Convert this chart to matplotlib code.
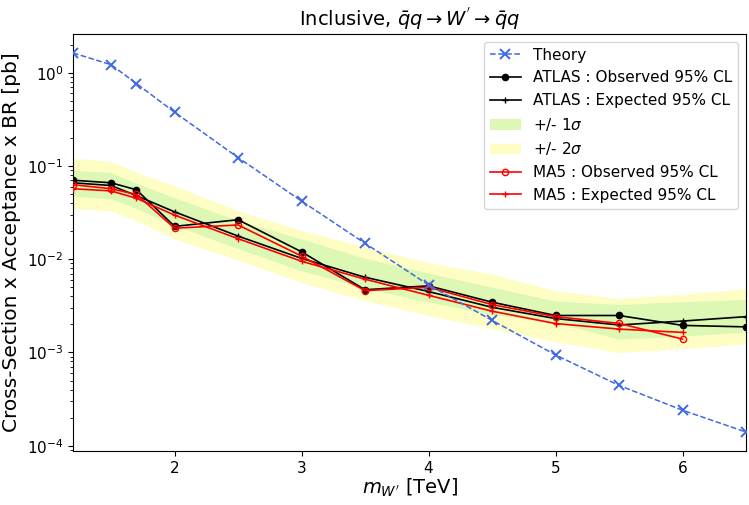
import matplotlib
matplotlib.use("Agg")
import matplotlib.pyplot as plt

mass = [1.2, 1.5, 1.7, 2.0, 2.5, 3.0, 3.5, 4.0, 4.5, 5.0, 5.5, 6.0, 6.5]
theory = [1.63, 1.22, 0.765, 0.377, 0.123, 0.042, 0.0148, 0.0053, 0.00221, 0.00094, 0.000443, 0.00024, 0.00014]
atlas_obs = [0.0703, 0.066, 0.0555, 0.0225, 0.0265, 0.0120, 0.0047, 0.00518, 0.00346, 0.00249, 0.00249, 0.00195, 0.00188]
atlas_exp = [0.066, 0.0617, 0.048, 0.0322, 0.0177, 0.0102, 0.0064, 0.0045, 0.00305, 0.00231, 0.00197, 0.00217, 0.00242]
band_2s_hi = [0.121, 0.112, 0.086, 0.061, 0.033, 0.0203, 0.0135, 0.0092, 0.0069, 0.0046, 0.0038, 0.0042, 0.0048]
band_1s_hi = [0.090, 0.085, 0.065, 0.0457, 0.0259, 0.0165, 0.0102, 0.0071, 0.0050, 0.00356, 0.00326, 0.0035, 0.0037]
band_1s_lo = [0.0475, 0.0445, 0.035, 0.023, 0.013, 0.0075, 0.0049, 0.00347, 0.00255, 0.0021, 0.00139, 0.0015, 0.00165]
band_2s_lo = [0.035, 0.033, 0.026, 0.0165, 0.0098, 0.0056, 0.0036, 0.0025, 0.0018, 0.0013, 0.0010, 0.0011, 0.00123]

ma5_mass = [1.2, 1.5, 1.7, 2.0, 2.5, 3.0, 3.5, 4.0, 4.5, 5.0, 5.5, 6.0]
ma5_obs = [0.063, 0.057, 0.0495, 0.0215, 0.0233, 0.0108, 0.0046, 0.0050, 0.00326, 0.00242, 0.00205, 0.00139]
ma5_exp = [0.057, 0.054, 0.045, 0.0297, 0.0166, 0.0095, 0.0061, 0.0041, 0.00277, 0.00204, 0.00178, 0.00164]

fig = plt.figure(figsize=(7.49, 5.05), dpi=100)
ax = fig.add_axes([73 / 749, 54 / 505, 673 / 749, 417 / 505])

ax.fill_between(mass, band_2s_lo, band_2s_hi, color='#fdfdc4', lw=0, label=r'+/- 2$\sigma$', zorder=1)
ax.fill_between(mass, band_1s_lo, band_1s_hi, color='#dcf8b4', lw=0, label=r'+/- 1$\sigma$', zorder=2)

ax.plot(mass, theory, '--x', color='royalblue', ms=7, mew=1.4, lw=1.1, label='Theory', zorder=5)
ax.plot(mass, atlas_obs, '-o', color='black', ms=4.5, lw=1.2, label='ATLAS : Observed 95% CL', zorder=4)
ax.plot(mass, atlas_exp, '-+', color='black', ms=5, lw=1.2, label='ATLAS : Expected 95% CL', zorder=4)
ax.plot(ma5_mass, ma5_obs, '-o', color='red', mfc='none', ms=4.5, lw=1.2, label='MA5 : Observed 95% CL', zorder=4)
ax.plot(ma5_mass, ma5_exp, '-+', color='red', ms=5, lw=1.2, label='MA5 : Expected 95% CL', zorder=4)

ax.set_yscale('log')
ax.set_xlim(1.2, 6.5)
ax.set_xticks([2, 3, 4, 5, 6])
ax.tick_params(labelsize=11)
ax.set_xlabel(r"$m_{W'}$ [TeV]", fontsize=14, labelpad=1)
ax.set_ylabel('Cross-Section x Acceptance x BR [pb]', fontsize=14.5, labelpad=4)
ax.set_title(r"Inclusive, $\bar{q}q \rightarrow W^{'} \rightarrow \bar{q}q$", fontsize=14)

h, l = ax.get_legend_handles_labels()
order = ['Theory', 'ATLAS : Observed 95% CL', 'ATLAS : Expected 95% CL', r'+/- 1$\sigma$', r'+/- 2$\sigma$',
         'MA5 : Observed 95% CL', 'MA5 : Expected 95% CL']
hd = dict(zip(l, h))
ax.legend([hd[k] for k in order], order, fontsize=11, loc='upper right')

fig.savefig('out.png', dpi=100)
